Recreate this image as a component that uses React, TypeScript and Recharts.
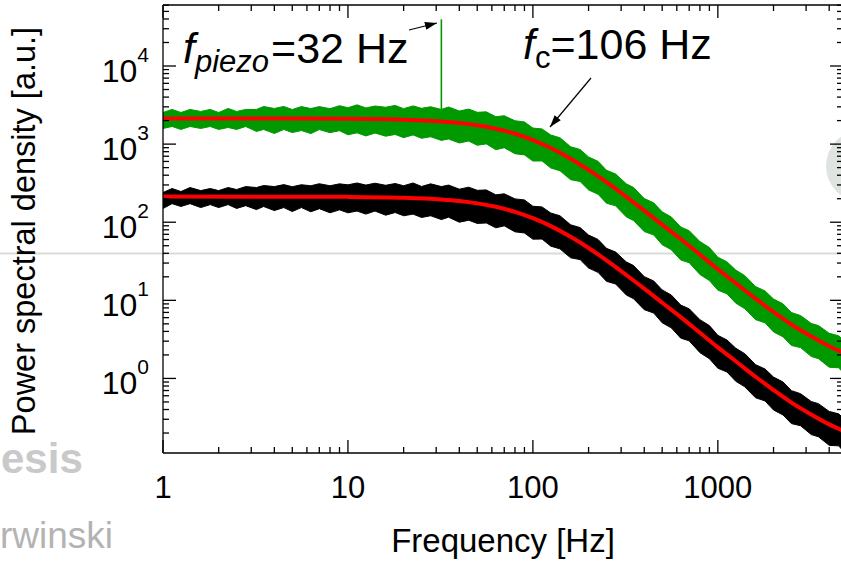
import React from "react";
import { ComposedChart, Area, Line, XAxis, YAxis } from "recharts";

// noisy spectra, sampled on a log-spaced grid (band = min/max of the noise)
const FREQ = [
  1, 1.12, 1.25, 1.4, 1.6, 1.8, 2, 2.25, 2.5, 2.8,
  3.2, 3.5, 4, 4.5, 5, 5.6, 6.3, 7, 8, 9,
  10, 11.2, 12.5, 14, 16, 18, 20, 22.5, 25, 28,
  32, 35, 40, 45, 50, 56, 63, 70, 80, 90,
  100, 112, 125, 140, 160, 180, 200, 225, 250, 280,
  320, 350, 400, 450, 500, 560, 630, 700, 800, 900,
  1000, 1120, 1250, 1400, 1600, 1800, 2000, 2250, 2500, 2800,
  3200, 3500, 4000, 4500, 4750,
];

const GREEN_HI = [
  2541, 2778, 2541, 2778, 2618, 2778, 2541, 2861, 2618, 2778,
  2778, 3033, 2861, 3033, 2771, 3025, 2850, 3020, 2844, 3103,
  2920, 3182, 2906, 3072, 2966, 3128, 2845, 3084, 2874, 3008,
  2780, 2989, 2654, 2810, 2555, 2588, 2243, 2308, 1991, 1926,
  1605, 1565, 1307, 1207, 926, 853, 685, 602, 463, 415,
  310, 279, 201, 177, 136, 117, 86.9, 77.8, 56.5, 47.5,
  35.6, 31.1, 24.4, 20.7, 15.0, 13.2, 10.4, 9.02, 6.98, 6.38,
  5.06, 4.75, 3.78, 3.52, 3.14,
];
const GREEN_LO = [
  1586, 1682, 1540, 1682, 1586, 1682, 1540, 1633, 1540, 1682,
  1452, 1540, 1369, 1540, 1406, 1492, 1364, 1534, 1402, 1485,
  1317, 1394, 1273, 1386, 1262, 1330, 1210, 1312, 1187, 1242,
  1115, 1164, 1034, 1094, 966, 1007, 848, 898, 753, 728,
  607, 609, 494, 456, 350, 332, 259, 228, 175, 162,
  117, 105, 75.9, 68.7, 51.6, 44.4, 32.8, 30.3, 21.4, 17.9,
  13.5, 12.1, 9.2, 7.8, 5.65, 5.15, 3.94, 3.41, 2.64, 2.48,
  1.91, 1.79, 1.39, 1.37, 1.19,
];

const BLACK_HI = [
  240, 270, 247, 278, 254, 270, 254, 278, 262, 286,
  278, 295, 286, 303, 285, 302, 293, 311, 293, 310,
  301, 318, 299, 316, 297, 313, 293, 318, 287, 310,
  286, 299, 265, 281, 256, 259, 224, 231, 199, 193,
  160, 157, 131, 121, 92.6, 85.3, 68.5, 60.2, 46.3, 41.5,
  31.0, 27.9, 20.1, 17.7, 13.6, 11.7, 8.69, 7.78, 5.65, 4.75,
  3.56, 3.11, 2.44, 2.07, 1.5, 1.32, 1.04, 0.902, 0.698, 0.638,
  0.506, 0.475, 0.378, 0.352, 0.314,
];
const BLACK_LO = [
  150, 173, 159, 173, 154, 168, 154, 168, 150, 163,
  145, 159, 141, 154, 137, 154, 136, 149, 132, 144,
  132, 139, 127, 139, 123, 133, 121, 127, 115, 121,
  108, 116, 100, 106, 96.6, 97.8, 84.8, 89.8, 75.3, 72.8,
  60.7, 60.9, 49.4, 45.6, 35.0, 33.2, 25.9, 22.8, 17.5, 16.2,
  11.7, 10.5, 7.59, 6.87, 5.16, 4.44, 3.28, 3.03, 2.14, 1.79,
  1.35, 1.21, 0.92, 0.78, 0.565, 0.515, 0.394, 0.341, 0.264, 0.248,
  0.191, 0.179, 0.139, 0.137, 0.119,
];

// Lorentzian fits (red)
const FIT_FREQ = [
  1, 5, 10, 20, 32, 40, 50, 63, 80, 100, 125, 160, 200, 250,
  320, 400, 500, 630, 800, 1000, 1250, 1600, 2000, 2500, 3200, 4000, 4750,
];
const GREEN_FIT = [
  2130, 2125, 2111, 2057, 1952, 1864, 1742, 1575, 1357, 1127, 891, 650, 467, 325,
  211, 141, 93, 61, 38.5, 25, 16.6, 10.5, 7.1, 4.9, 3.45, 2.58, 2.14,
];
const BLACK_FIT = [
  213, 212.5, 211.1, 205.7, 195.2, 186.4, 174.2, 157.5, 135.7, 112.7, 89.1, 65.0, 46.7, 32.5,
  21.1, 14.1, 9.3, 6.1, 3.85, 2.5, 1.66, 1.05, 0.71, 0.49, 0.345, 0.258, 0.214,
];

// piezo peak at 32 Hz
const SPIKE_FREQ = [32, 32];
const SPIKE_VALUE = [2700, 39600];

const X_TICKS = [
  1, 2, 3, 4, 5, 6, 7, 8, 9,
  10, 20, 30, 40, 50, 60, 70, 80, 90,
  100, 200, 300, 400, 500, 600, 700, 800, 900,
  1000, 2000, 3000, 4000,
];
const X_MAJOR = [1, 10, 100, 1000];
const X_LABELS = ["1", "10", "100", "1000"];

const Y_TICKS = [
  0.2, 0.3, 0.4, 0.5, 0.6, 0.7, 0.8, 0.9,
  1, 2, 3, 4, 5, 6, 7, 8, 9,
  10, 20, 30, 40, 50, 60, 70, 80, 90,
  100, 200, 300, 400, 500, 600, 700, 800, 900,
  1000, 2000, 3000, 4000, 5000, 6000, 7000, 8000, 9000,
  10000, 20000, 30000, 40000, 50000, 60000,
];
const Y_MAJOR = [1, 10, 100, 1000, 10000];
const Y_EXP = ["0", "1", "2", "3", "4"];

const FONT = "'Liberation Sans', Arial, Helvetica, sans-serif";
const GREEN = "#009900";
const MAJOR_LEN = 13;
const MINOR_LEN = 6;

function BottomTick(props: any) {
  const { x, y, payload } = props;
  const k = X_MAJOR.indexOf(payload.value);
  return (
    <g>
      <line x1={x} y1={y} x2={x} y2={y - (k >= 0 ? MAJOR_LEN : MINOR_LEN)} stroke="#000" strokeWidth={1.3} />
      {k >= 0 && (
        <text x={x} y={y + 45} textAnchor="middle" fontSize={31} fontFamily={FONT} fill="#000">
          {X_LABELS[k]}
        </text>
      )}
    </g>
  );
}

function TopTick(props: any) {
  const { x, y, payload } = props;
  const major = X_MAJOR.includes(payload.value);
  return <line x1={x} y1={y} x2={x} y2={y + (major ? MAJOR_LEN : MINOR_LEN)} stroke="#000" strokeWidth={1.3} />;
}

function LeftTick(props: any) {
  const { x, y, payload } = props;
  const k = Y_MAJOR.indexOf(payload.value);
  return (
    <g>
      <line x1={x} y1={y} x2={x + (k >= 0 ? MAJOR_LEN : MINOR_LEN)} y2={y} stroke="#000" strokeWidth={1.3} />
      {k >= 0 && (
        <text x={x - 14} y={y + 16} textAnchor="end" fontSize={32} fontFamily={FONT} fill="#000">
          10
          <tspan dy={-20} fontSize={21}>
            {Y_EXP[k]}
          </tspan>
        </text>
      )}
    </g>
  );
}

function RightTick(props: any) {
  const { x, y, payload } = props;
  const major = Y_MAJOR.includes(payload.value);
  return <line x1={x} y1={y} x2={x - (major ? MAJOR_LEN : MINOR_LEN)} y2={y} stroke="#000" strokeWidth={1.3} />;
}

export default function App() {
  const bandRows = FREQ.map((f, i) => ({
    f,
    green: [GREEN_LO[i], GREEN_HI[i]],
    black: [BLACK_LO[i], BLACK_HI[i]],
  }));
  const fitRows = FIT_FREQ.map((f, i) => ({ f, green: GREEN_FIT[i], black: BLACK_FIT[i] }));
  const spikeRows = SPIKE_FREQ.map((f, i) => ({ f, v: SPIKE_VALUE[i] }));

  const axisLine = { stroke: "#000", strokeWidth: 1.3 };

  return (
    <div style={{ position: "fixed", left: 0, top: 0, width: 841, height: 563, overflow: "hidden", background: "#fff" }}>
      {/* faded slide behind the figure */}
      <svg width={841} height={563} style={{ position: "absolute", left: 0, top: 0 }}>
        <line x1={0} y1={253.5} x2={841} y2={253.5} stroke="#d6dcd6" strokeWidth={2} />
        <circle cx={862} cy={166} r={36} fill="#e0e4e0" />
        <text x={1} y={473} fontSize={42} fontWeight="bold" fontFamily={FONT} fill="#c9c9c9">
          esis
        </text>
        <text x={0} y={548} fontSize={37} fontFamily={FONT} fill="#b3b3b3">
          rwinski
        </text>
      </svg>

      <div style={{ position: "absolute", left: 0, top: 0 }}>
        <ComposedChart width={900} height={563} data={bandRows} margin={{ top: 0, right: 37, bottom: 50, left: 83 }}>
          <XAxis
            xAxisId="bottom"
            dataKey="f"
            type="number"
            scale="log"
            domain={[1, 4750]}
            allowDataOverflow
            ticks={X_TICKS}
            interval={0}
            tickLine={false}
            tickSize={0}
            tickMargin={0}
            height={60}
            axisLine={axisLine}
            tick={BottomTick}
          />
          <XAxis
            xAxisId="top"
            orientation="top"
            dataKey="f"
            type="number"
            scale="log"
            domain={[1, 4750]}
            allowDataOverflow
            ticks={X_TICKS}
            interval={0}
            tickLine={false}
            tickSize={0}
            tickMargin={0}
            height={5}
            axisLine={axisLine}
            tick={TopTick}
          />
          <YAxis
            yAxisId="left"
            type="number"
            scale="log"
            domain={[0.111, 60400]}
            allowDataOverflow
            ticks={Y_TICKS}
            interval={0}
            tickLine={false}
            tickSize={0}
            tickMargin={0}
            width={80}
            axisLine={axisLine}
            tick={LeftTick}
          />
          <YAxis
            yAxisId="right"
            orientation="right"
            type="number"
            scale="log"
            domain={[0.111, 60400]}
            allowDataOverflow
            ticks={Y_TICKS}
            interval={0}
            tickLine={false}
            tickSize={0}
            tickMargin={0}
            width={20}
            axisLine={axisLine}
            tick={RightTick}
          />

          <Area
            xAxisId="bottom"
            yAxisId="left"
            dataKey="green"
            type="linear"
            stroke={GREEN}
            strokeWidth={1}
            fill={GREEN}
            fillOpacity={1}
            dot={false}
            activeDot={false}
            isAnimationActive={false}
          />
          <Area
            xAxisId="bottom"
            yAxisId="left"
            dataKey="black"
            type="linear"
            stroke="#000"
            strokeWidth={1}
            fill="#000"
            fillOpacity={1}
            dot={false}
            activeDot={false}
            isAnimationActive={false}
          />
          <Line
            xAxisId="bottom"
            yAxisId="left"
            data={spikeRows}
            dataKey="v"
            type="linear"
            stroke={GREEN}
            strokeWidth={1.6}
            dot={false}
            activeDot={false}
            isAnimationActive={false}
          />
          <Line
            xAxisId="top"
            yAxisId="right"
            data={fitRows}
            dataKey="green"
            type="monotone"
            stroke="#ff0000"
            strokeWidth={4}
            dot={false}
            activeDot={false}
            isAnimationActive={false}
          />
          <Line
            xAxisId="top"
            yAxisId="right"
            data={fitRows}
            dataKey="black"
            type="monotone"
            stroke="#ff0000"
            strokeWidth={4}
            dot={false}
            activeDot={false}
            isAnimationActive={false}
          />
        </ComposedChart>
      </div>

      {/* titles and annotations */}
      <svg width={841} height={563} style={{ position: "absolute", left: 0, top: 0, pointerEvents: "none" }}>
        <defs>
          <marker id="head" viewBox="0 0 12 8" refX={12} refY={4} markerWidth={13} markerHeight={8} orient="auto" markerUnits="userSpaceOnUse">
            <path d="M0,0 L12,4 L0,8 z" fill="#000" />
          </marker>
        </defs>
        <text x={503} y={552} textAnchor="middle" fontSize={33} fontFamily={FONT} fill="#000">
          Frequency [Hz]
        </text>
        <text
          x={35}
          y={231}
          transform="rotate(-90 35 231)"
          textAnchor="middle"
          fontSize={32.5}
          fontFamily={FONT}
          fill="#000"
        >
          Power spectral density [a.u.]
        </text>
        <text x={183} y={63} fontSize={43} fontFamily={FONT} fill="#000">
          <tspan fontStyle="italic">f</tspan>
          <tspan fontStyle="italic" fontSize={31} dy={9}>
            piezo
          </tspan>
          <tspan dy={-9} dx={2}>
            =32 Hz
          </tspan>
        </text>
        <text x={523} y={59} fontSize={43} fontFamily={FONT} fill="#000">
          <tspan fontStyle="italic">f</tspan>
          <tspan fontSize={31} dy={9}>
            c
          </tspan>
          <tspan dy={-9}>=106 Hz</tspan>
        </text>
        <line x1={409} y1={30} x2={437} y2={23} stroke="#000" strokeWidth={1.2} markerEnd="url(#head)" />
        <line x1={591} y1={78} x2={550} y2={127} stroke="#000" strokeWidth={1.2} markerEnd="url(#head)" />
      </svg>
    </div>
  );
}
